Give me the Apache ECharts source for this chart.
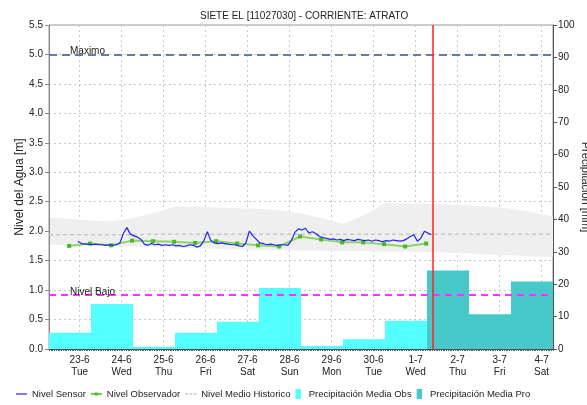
<!DOCTYPE html>
<html>
<head>
<meta charset="utf-8">
<script src="https://cdn.jsdelivr.net/npm/echarts@6/dist/echarts.min.js"></script>
<style>
  html, body { margin: 0; padding: 0; background: #fff; }
  #grafica { width: 587px; height: 405px; }
</style>
</head>
<body>
<div id="grafica"></div>
<script>
// eje x en horas desde 23-6 00:00 ; el eje arranca el 22-6 06:30
var ejeInicio = -17.5, ejeFin = 270.5;
var diasEtiqueta = ['23-6','24-6','25-6','26-6','27-6','28-6','29-6','30-6','1-7','2-7','3-7','4-7'];
var diasSemana = ['Tue','Wed','Thu','Fri','Sat','Sun','Mon','Tue','Wed','Thu','Fri','Sat'];

// precipitacion diaria [mm]
var precipObs = [5.0, 13.9, 0.7, 5.0, 8.4, 18.8, 0.9, 3.0, 8.7];
var precipPro = [24.2, 10.7, 20.8];

// nivel sensor [m], cada 2 horas desde la hora -1
var sensorInicio = -1, sensorPaso = 2;
var nivelSensor = [1.83,1.79,1.78,1.78,1.77,1.78,1.77,1.77,1.76,1.77,1.76,1.77,1.80,1.96,2.06,1.95,1.92,1.90,1.86,1.78,
  1.76,1.79,1.77,1.78,1.76,1.77,1.76,1.77,1.75,1.76,1.74,1.75,1.77,1.76,1.73,1.75,1.84,1.99,1.84,1.80,
  1.79,1.80,1.79,1.78,1.77,1.77,1.75,1.74,1.80,2.00,1.92,1.86,1.80,1.79,1.77,1.78,1.77,1.76,1.77,1.77,
  1.76,1.84,1.98,2.04,2.02,2.05,1.97,1.99,1.96,1.91,1.89,1.88,1.86,1.87,1.85,1.86,1.84,1.86,1.85,1.84,
  1.86,1.85,1.84,1.85,1.83,1.85,1.84,1.82,1.84,1.83,1.85,1.84,1.83,1.84,1.87,1.91,1.94,1.83,1.88,2.00,
  1.97,1.94];

// nivel observador [m], 6:00 y 18:00
var obsInicio = -6, obsPaso = 12;
var nivelObs = [1.75,1.79,1.76,1.84,1.83,1.82,1.80,1.83,1.79,1.76,1.74,1.91,1.86,1.81,1.81,1.78,1.74,1.79];

// nivel medio historico [m], cada 12 horas
var histInicio = -17.5, histPaso = 12;
var histMax = [2.23,2.21,2.18,2.17,2.22,2.31,2.42,2.42,2.40,2.39,2.38,2.35,2.30,2.22,2.12,2.27,2.48,2.47,2.46,2.45,2.44,2.42,2.38,2.32,2.25];
var histMin = [1.77,1.77,1.76,1.75,1.74,1.73,1.72,1.71,1.70,1.69,1.68,1.68,1.67,1.67,1.66,1.66,1.65,1.65,1.65,1.64,1.62,1.60,1.59,1.57,1.56];
var histMedio = [1.94,1.94,1.94,1.94,1.94,1.95,1.95,1.95,1.95,1.95,1.95,1.95,1.95,1.95,1.95,1.95,1.95,1.95,1.95,1.95,1.95,1.95,1.95,1.95,1.95];

var nivelMaximo = 5.0, nivelBajo = 0.92, horaActual = 201.5;

function serie(inicio, paso, valores) {
    return valores.map(function (v, i) { return [inicio + paso * i, v]; });
}
var barrasObs = precipObs.map(function (v, i) { return [ejeInicio + 24 * i, ejeInicio + 24 * (i + 1), v]; });
var barrasPro = precipPro.map(function (v, i) {
    var k = precipObs.length + i;
    return [ejeInicio + 24 * k, ejeInicio + 24 * (k + 1), v];
});
var bandaDatos = histMax.map(function (v, i) { return [histInicio + histPaso * i, v, histMin[i]]; });
var posEtiquetas = diasEtiqueta.map(function (d, i) { return 24 * i; });

function barras(color) {
    return function (params, api) {
        var p0 = api.coord([api.value(0), api.value(2)]);
        var p1 = api.coord([api.value(1), 0]);
        return {
            type: 'rect',
            shape: { x: p0[0], y: p0[1], width: p1[0] - p0[0], height: p1[1] - p0[1] },
            style: { fill: color }
        };
    };
}

// la banda historica se dibuja como un solo poligono (max de ida, min de vuelta)
function bandaHist(params, api) {
    if (params.dataIndex !== 0) return null;
    var pts = [];
    bandaDatos.forEach(function (d) { pts.push(api.coord([d[0], d[1]])); });
    for (var i = bandaDatos.length - 1; i >= 0; i--) {
        pts.push(api.coord([bandaDatos[i][0], bandaDatos[i][2]]));
    }
    return { type: 'polygon', shape: { points: pts }, style: { fill: '#efefef' } };
}

var fuente = "'Liberation Sans', Arial, sans-serif";
var myChart = echarts.init(document.getElementById('grafica'));
var option = {
    animation: false,
    textStyle: { fontFamily: fuente },
    title: {
        text: 'SIETE EL [11027030] - CORRIENTE: ATRATO',
        left: 195, top: 6,
        textStyle: { fontSize: 10, fontWeight: 'normal', color: '#222', fontFamily: fuente }
    },
    legend: {
        left: 16, top: 389, width: 800, padding: 0,
        itemWidth: 11, itemHeight: 10, itemGap: 5,
        textStyle: { fontSize: 9.5, color: '#222', fontFamily: fuente },
        data: [
            { name: 'Nivel Sensor', icon: 'path://M0,0h12v1.3h-12z' },
            { name: 'Nivel Observador', icon: 'path://M0,1.5h12v1.5h-12zM4.5,0.5h3v3.5h-3z' },
            { name: 'Nivel Medio Historico', icon: 'path://M0,0h3v1.5h-3zM4.5,0h3v1.5h-3zM9,0h3v1.5h-3z' },
            { name: 'Precipitación Media Obs', icon: 'path://M0,0h6v11h-6z' },
            { name: 'Precipitación Media Pro', icon: 'path://M0,0h6v11h-6z' }
        ]
    },
    grid: {
        left: 49, right: 34, top: 25, bottom: 56,
        outerBoundsMode: 'none', containLabel: false,
        show: true, borderColor: '#999', borderWidth: 1
    },
    xAxis: [
        {
            type: 'value', min: ejeInicio, max: ejeFin,
            axisLine: { onZero: false, lineStyle: { color: '#444' } },
            axisTick: { show: false, customValues: posEtiquetas },
            splitLine: { show: true, lineStyle: { color: '#c8c8c8', type: [2, 3] } },
            axisLabel: {
                customValues: posEtiquetas,
                fontSize: 10, color: '#222', lineHeight: 12, margin: 5,
                formatter: function (v) {
                    var i = Math.round(v / 24);
                    return diasEtiqueta[i] + '\n' + diasSemana[i];
                }
            }
        },
        {
            type: 'value', min: ejeInicio, max: ejeFin, interval: 1, position: 'bottom',
            axisLine: { show: false, onZero: false },
            axisTick: { show: true, length: 2, lineStyle: { color: '#555' } },
            axisLabel: { show: false },
            splitLine: { show: false }
        }
    ],
    yAxis: [
        {
            type: 'value', min: 0, max: 5.5, interval: 0.5,
            name: 'Nivel del Agua [m]', nameLocation: 'middle', nameGap: 23, nameMoveOverlap: false,
            nameTextStyle: { fontSize: 12, color: '#222' },
            axisLine: { show: true, onZero: false, lineStyle: { color: '#888' } },
            axisTick: { show: true, length: 4, lineStyle: { color: '#888' } },
            axisLabel: { fontSize: 10, color: '#222', margin: 6, formatter: function (v) { return v.toFixed(1); } },
            splitLine: { show: true, lineStyle: { color: '#c8c8c8', type: [2, 3] } }
        },
        {
            type: 'value', min: 0, max: 100, interval: 10, position: 'right',
            name: 'Precipitación [mm]', nameLocation: 'middle', nameGap: 27, nameRotate: -90, nameMoveOverlap: false,
            nameTextStyle: { fontSize: 11, color: '#222' },
            axisLine: { show: true, onZero: false, lineStyle: { color: '#555' } },
            axisTick: { show: true, length: 4, lineStyle: { color: '#555' } },
            axisLabel: { fontSize: 10, color: '#222', margin: 5 },
            splitLine: { show: false }
        }
    ],
    series: [
        {
            name: 'Precipitación Media Obs', type: 'custom', yAxisIndex: 1, z: 1,
            itemStyle: { color: '#55ffff' },
            renderItem: barras('#55ffff'),
            encode: { x: [0, 1], y: 2 },
            data: barrasObs
        },
        {
            name: 'Precipitación Media Pro', type: 'custom', yAxisIndex: 1, z: 1,
            itemStyle: { color: '#48c8c8' },
            renderItem: barras('#48c8c8'),
            encode: { x: [0, 1], y: 2 },
            data: barrasPro
        },
        {
            name: 'banda', type: 'custom', z: 0, silent: true,
            renderItem: bandaHist,
            encode: { x: 0, y: [1, 2] },
            data: bandaDatos
        },
        {
            name: 'Nivel Medio Historico', type: 'line', z: 3, symbol: 'none',
            itemStyle: { color: '#c8c8c8' },
            lineStyle: { color: '#c8c8c8', width: 1.5, type: [4, 3] },
            data: serie(histInicio, histPaso, histMedio)
        },
        {
            name: 'Nivel Observador', type: 'line', z: 4,
            symbol: 'rect', symbolSize: 4,
            itemStyle: { color: '#44bb22' },
            lineStyle: { color: '#8ed46a', width: 2 },
            data: serie(obsInicio, obsPaso, nivelObs)
        },
        {
            name: 'Nivel Sensor', type: 'line', z: 5, symbol: 'none',
            itemStyle: { color: '#2222ee' },
            lineStyle: { color: '#2222ee', width: 1.2 },
            data: serie(sensorInicio, sensorPaso, nivelSensor),
            markLine: {
                silent: true, symbol: ['none', 'none'], animation: false,
                data: [
                    {
                        yAxis: nivelMaximo,
                        lineStyle: { color: '#6a78a6', width: 2, type: [8, 5] },
                        label: { show: true, position: 'insideStartTop', distance: [21, -2], formatter: 'Maximo', fontSize: 10, color: '#222' }
                    },
                    {
                        yAxis: nivelBajo,
                        lineStyle: { color: '#ff33ff', width: 2, type: [7, 5] },
                        label: { show: true, position: 'insideStartTop', distance: [21, -2], formatter: 'Nivel Bajo', fontSize: 10, color: '#222' }
                    },
                    {
                        xAxis: horaActual,
                        lineStyle: { color: '#ff2222', width: 1.5, type: 'solid' },
                        label: { show: false }
                    }
                ]
            }
        }
    ]
};
myChart.setOption(option);
</script>
</body>
</html>
